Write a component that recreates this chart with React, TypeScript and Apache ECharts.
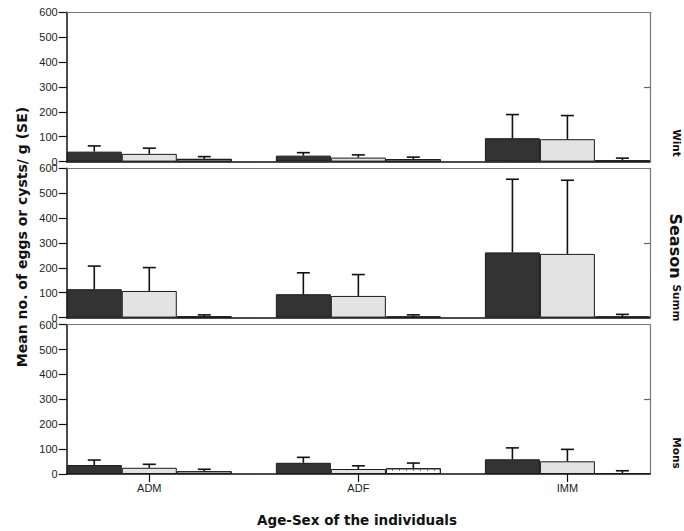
import React, { useEffect, useRef } from "react";
import * as echarts from "echarts";

// ---- data ----
const categories = ["ADM", "ADF", "IMM"];
const seasons = ["Wint", "Summ", "Mons"];
const yTicks = [0, 100, 200, 300, 400, 500, 600];

// Winter
const wintMean1 = [40, 24, 94];
const wintUpper1 = [63, 36, 189];
const wintMean2 = [31, 16, 90];
const wintUpper2 = [54, 27, 185];
const wintMean3 = [11, 10, 5];
const wintUpper3 = [20, 18, 14];

// Summer
const summMean1 = [114, 94, 262];
const summUpper1 = [207, 180, 556];
const summMean2 = [107, 87, 256];
const summUpper2 = [201, 173, 552];
const summMean3 = [5, 4, 4];
const summUpper3 = [11, 11, 13];

// Monsoon
const monsMean1 = [36, 45, 59];
const monsUpper1 = [56, 67, 105];
const monsMean2 = [25, 20, 51];
const monsUpper2 = [39, 33, 99];
const monsMean3 = [11, 23, 4];
const monsUpper3 = [19, 44, 13];

const panels = [
  { means: [wintMean1, wintMean2, wintMean3], uppers: [wintUpper1, wintUpper2, wintUpper3] },
  { means: [summMean1, summMean2, summMean3], uppers: [summUpper1, summUpper2, summUpper3] },
  { means: [monsMean1, monsMean2, monsMean3], uppers: [monsUpper1, monsUpper2, monsUpper3] },
];

// ---- layout / style ----
const W = 684;
const H = 531;
const GRID_LEFT = 66.7;
const GRID_RIGHT = 34;
const GRID_TOPS = [12.3, 168.3, 324.7];
const GRID_H = 149.3;
const BAR_W = 55;
const X_MIN = -0.395;
const X_MAX = 2.395;
const barFills = ["#333333", "#e3e3e3", "#ffffff"];
const seasonLabelY = [143, 303, 453];

export default function App() {
  const ref = useRef<HTMLDivElement>(null);

  useEffect(() => {
    if (!ref.current) return;
    const chart = echarts.init(ref.current, null, { renderer: "svg" });

    const grid: any[] = [];
    const xAxis: any[] = [];
    const yAxis: any[] = [];
    const series: any[] = [];

    panels.forEach((panel, i) => {
      grid.push({ left: GRID_LEFT, right: GRID_RIGHT, top: GRID_TOPS[i], height: GRID_H, containLabel: false });
      const isBottom = i === panels.length - 1;
      // bottom x axis
      xAxis.push({
        gridIndex: i,
        type: "value",
        min: X_MIN,
        max: X_MAX,
        position: "bottom",
        axisLine: { show: true, onZero: false, lineStyle: { color: "#111", width: 1.5 } },
        axisTick: { show: isBottom, customValues: [0, 1, 2], length: 8, lineStyle: { color: "#111", width: 1.2 } },
        axisLabel: {
          show: isBottom,
          customValues: [0, 1, 2],
          formatter: (v: number) => categories[Math.round(v)] ?? "",
          fontSize: 11,
          color: "#222",
          margin: 8,
          fontFamily: "Liberation Sans, Arial, sans-serif",
        },
        splitLine: { show: false },
      });
      // top frame
      xAxis.push({
        gridIndex: i,
        type: "value",
        min: X_MIN,
        max: X_MAX,
        position: "top",
        axisLine: { show: true, onZero: false, lineStyle: { color: "#777", width: 1.2 } },
        axisTick: { show: false },
        axisLabel: { show: false },
        splitLine: { show: false },
      });
      // left y axis
      yAxis.push({
        gridIndex: i,
        type: "value",
        min: 0,
        max: 600,
        interval: 100,
        position: "left",
        axisLine: { show: true, onZero: false, lineStyle: { color: "#111", width: 1.5 } },
        axisTick: { show: true, length: 8, lineStyle: { color: "#111", width: 1.2 } },
        axisLabel: {
          fontSize: 11,
          margin: 9,
          color: "#222",
          fontFamily: "Liberation Sans, Arial, sans-serif",
          formatter: (v: number) => (yTicks.includes(v) ? String(v) : ""),
        },
        splitLine: { show: false },
      });
      // right frame
      yAxis.push({
        gridIndex: i,
        type: "value",
        min: 0,
        max: 600,
        position: "right",
        axisLine: { show: true, onZero: false, lineStyle: { color: "#777", width: 1.2 } },
        axisTick: { show: true, inside: true, customValues: [300], length: 6, lineStyle: { color: "#666", width: 1.2 } },
        axisLabel: { show: false },
        splitLine: { show: false },
      });

      panel.means.forEach((m, k) => {
        series.push({
          type: "bar",
          name: `${seasons[i]}-${k + 1}`,
          xAxisIndex: i * 2,
          yAxisIndex: i * 2,
          barWidth: BAR_W,
          barGap: "0%",
          data: m.map((v, j) => [j, v]),
          itemStyle: {
            color: barFills[k],
            borderColor: "#1a1a1a",
            borderWidth: 1,
            decal:
              k === 2
                ? { symbol: "rect", symbolSize: 1, dashArrayX: [1, 6], dashArrayY: [3, 3], color: "#777" }
                : undefined,
          },
          silent: true,
          z: 2,
        });
      });

      const errData: number[][] = [];
      panel.means.forEach((m, k) => {
        m.forEach((v, j) => errData.push([j, v, panel.uppers[k][j], k]));
      });
      series.push({
        type: "custom",
        xAxisIndex: i * 2,
        yAxisIndex: i * 2,
        data: errData,
        z: 3,
        silent: true,
        renderItem: (params: any, api: any) => {
          const x = api.value(0);
          const mean = api.value(1);
          const up = api.value(2);
          const k = api.value(3);
          const p0 = api.coord([x, mean]);
          const p1 = api.coord([x, up]);
          const cx = p0[0] + (k - 1) * BAR_W;
          const st = { stroke: "#111", lineWidth: 1.6 };
          return {
            type: "group",
            children: [
              { type: "line", shape: { x1: cx, y1: p0[1], x2: cx, y2: p1[1] }, style: st },
              { type: "line", shape: { x1: cx - 6.5, y1: p1[1], x2: cx + 6.5, y2: p1[1] }, style: st },
            ],
          };
        },
      });
    });

    const titleFont = "DejaVu Sans, Verdana, sans-serif";
    const graphic: any[] = [
      {
        type: "text",
        x: 22,
        y: 237,
        rotation: Math.PI / 2,
        style: {
          text: "Mean no. of eggs or cysts/ g (SE)",
          fontSize: 14,
          fontWeight: "bold",
          fontFamily: titleFont,
          fill: "#111",
          align: "center",
          verticalAlign: "middle",
        },
      },
      {
        type: "text",
        x: 357,
        y: 520,
        style: {
          text: "Age-Sex of the individuals",
          fontSize: 13.5,
          fontWeight: "bold",
          fontFamily: titleFont,
          fill: "#111",
          align: "center",
          verticalAlign: "middle",
        },
      },
      {
        type: "text",
        x: 675,
        y: 246,
        rotation: -Math.PI / 2,
        style: {
          text: "Season",
          fontSize: 16,
          fontWeight: "bold",
          fontFamily: titleFont,
          fill: "#111",
          align: "center",
          verticalAlign: "middle",
        },
      },
    ];
    seasons.forEach((s, i) => {
      graphic.push({
        type: "text",
        x: 677,
        y: seasonLabelY[i],
        rotation: -Math.PI / 2,
        style: {
          text: s,
          fontSize: 10.5,
          fontWeight: "bold",
          fontFamily: titleFont,
          fill: "#111",
          align: "center",
          verticalAlign: "middle",
        },
      });
    });

    chart.setOption({
      animation: false,
      backgroundColor: "#ffffff",
      grid,
      xAxis,
      yAxis,
      series,
      graphic,
    });

    return () => chart.dispose();
  }, []);

  return (
    <div
      ref={ref}
      style={{ position: "fixed", left: 0, top: 0, width: W, height: H, background: "#fff" }}
    />
  );
}
